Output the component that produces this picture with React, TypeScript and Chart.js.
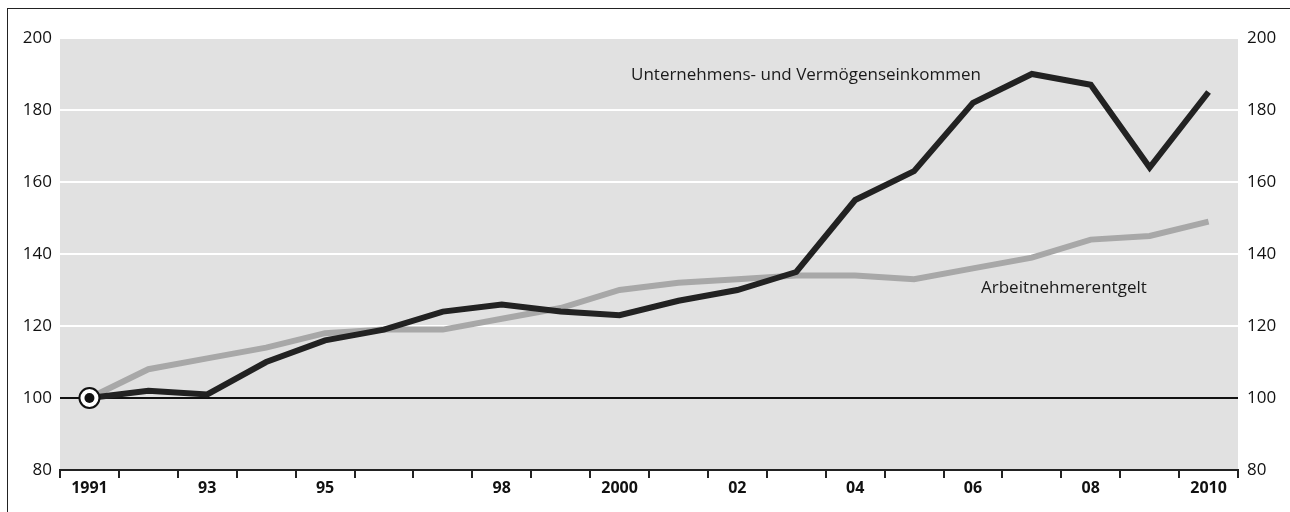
import React, { useEffect, useRef } from "react";
import { Chart, registerables } from "chart.js";

Chart.register(...registerables);

const years = ["1991","1992","1993","1994","1995","1996","1997","1998","1999","2000","2001","2002","2003","2004","2005","2006","2007","2008","2009","2010"];
const tickLabels = ["1991","","93","","95","","","98","","2000","","02","","04","","06","","08","","2010"];
const unternehmen = [100,102,101,110,116,119,124,126,124,123,127,130,135,155,163,182,190,187,164,185];
const arbeitnehmer = [100,108,111,114,118,119,119,122,125,130,132,133,134,134,133,136,139,144,145,149];
const baseMarker = [100, ...Array(19).fill(null)];
const yTicks = [80,100,120,140,160,180,200];

const FONT = "'Open Sans', 'Noto Sans', sans-serif";

const bgPlugin = {
  id: "bgPlugin",
  beforeDraw(chart: any) {
    const { ctx, chartArea } = chart;
    ctx.save();
    ctx.fillStyle = "#e1e1e1";
    ctx.fillRect(chartArea.left, chartArea.top, chartArea.right - chartArea.left, chartArea.bottom - chartArea.top);
    ctx.restore();
  },
  afterDatasetsDraw(chart: any) {
    const { ctx, chartArea } = chart;
    ctx.save();
    ctx.fillStyle = "#1a1a1a";
    ctx.font = `17px ${FONT}`;
    ctx.textBaseline = "middle";
    ctx.textAlign = "left";
    ctx.fillText("Unternehmens- und Vermögenseinkommen", chartArea.left + 571, chartArea.top + 37);
    ctx.fillText("Arbeitnehmerentgelt", chartArea.left + 921, chartArea.top + 250);
    ctx.restore();
  },
};

export default function App() {
  const ref = useRef<HTMLCanvasElement>(null);
  useEffect(() => {
    if (!ref.current) return;
    const chart = new Chart(ref.current, {
      type: "line",
      data: {
        labels: years,
        datasets: [
          {
            label: "marker",
            data: baseMarker,
            showLine: false,
            pointRadius: 10,
            pointBackgroundColor: "#ffffff",
            pointBorderColor: "#111",
            pointBorderWidth: 2,
            order: 0,
          },
          {
            label: "markerDot",
            data: baseMarker,
            showLine: false,
            pointRadius: 5,
            pointBackgroundColor: "#111",
            pointBorderWidth: 0,
            order: -1,
          },
          {
            label: "Unternehmens- und Vermögenseinkommen",
            data: unternehmen,
            borderColor: "#222222",
            borderWidth: 6,
            pointRadius: 0,
            borderJoinStyle: "miter",
            tension: 0,
            order: 1,
          },
          {
            label: "Arbeitnehmerentgelt",
            data: arbeitnehmer,
            borderColor: "#a8a8a8",
            borderWidth: 6,
            pointRadius: 0,
            borderJoinStyle: "miter",
            tension: 0,
            order: 2,
          },
        ],
      } as any,
      options: {
        animation: false,
        responsive: false,
        maintainAspectRatio: false,
        layout: { padding: { top: 38, left: 0, right: 0, bottom: 0 } },
        plugins: { legend: { display: false }, tooltip: { enabled: false } },
        scales: {
          x: {
            type: "category",
            offset: true,
            grid: {
              offset: true,
              drawOnChartArea: false,
              drawTicks: true,
              tickLength: 8,
              color: "#222",
              lineWidth: 2,
            },
            border: { display: true, color: "#222", width: 2 },
            ticks: {
              autoSkip: false,
              maxRotation: 0,
              padding: 1,
              color: "#111",
              font: { family: FONT, size: 16, weight: "bold" },
              callback: (_v: any, i: number) => tickLabels[i],
            },
            afterFit: (s: any) => { s.height = 42; },
          },
          y: {
            position: "left",
            min: 80,
            max: 200,
            afterBuildTicks: (s: any) => { s.ticks = yTicks.map((v) => ({ value: v })); },
            grid: {
              drawTicks: false,
              color: (c: any) => (c.tick && c.tick.value === 100 ? "#111" : c.tick && c.tick.value === 80 ? "rgba(0,0,0,0)" : "#ffffff"),
              lineWidth: 2,
            },
            border: { display: false },
            ticks: {
              padding: 8,
              color: "#111",
              font: { family: FONT, size: 17 },
            },
            afterFit: (s: any) => { s.width = 60; },
          },
          y2: {
            position: "right",
            min: 80,
            max: 200,
            afterBuildTicks: (s: any) => { s.ticks = yTicks.map((v) => ({ value: v })); },
            grid: { display: false, drawTicks: false },
            border: { display: false },
            ticks: {
              padding: 9,
              color: "#111",
              font: { family: FONT, size: 17 },
            },
            afterFit: (s: any) => { s.width = 52; },
          },
        },
      } as any,
      plugins: [bgPlugin],
    });
    return () => chart.destroy();
  }, []);

  return (
    <div style={{ position: "fixed", left: 0, top: 0, width: 1290, height: 512, background: "#fff" }}>
      <div style={{ position: "absolute", left: 7, top: 8, right: 0, bottom: 0, borderTop: "1.5px solid #222", borderLeft: "1.5px solid #222" }} />
      <canvas ref={ref} width={1290} height={512} style={{ position: "absolute", left: 0, top: 0, width: 1290, height: 512 }} />
    </div>
  );
}
